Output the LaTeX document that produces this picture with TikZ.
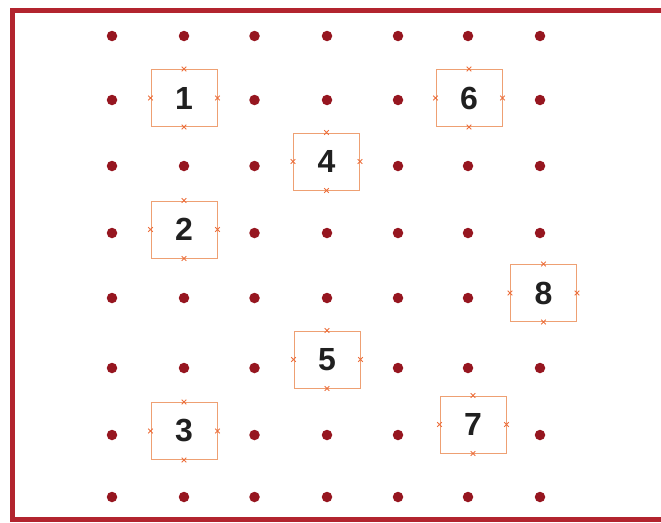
\documentclass[tikz,border=0pt]{standalone}
\usepackage{fontspec}
\setmainfont{Liberation Sans}
\usetikzlibrary{positioning}
\definecolor{framered}{RGB}{178,36,46}
\definecolor{dotred}{RGB}{150,22,32}
\definecolor{boxorange}{RGB}{238,160,115}
\definecolor{tickorange}{RGB}{236,112,62}
\definecolor{digitgray}{RGB}{32,32,32}
\tikzset{
  gridpt/.style={circle, fill=dotred, inner sep=0pt, minimum size=10.5pt},
  cellbox/.style={draw=boxorange, line width=1pt, minimum width=66pt, minimum height=57pt, inner sep=0pt, font=\fontsize{32}{32}\selectfont\bfseries, text=digitgray},
  edgetick/.style={draw=tickorange, line width=0.9pt}
}

\begin{document}
\begin{tikzpicture}[x=1pt, y=-1pt]
    \useasboundingbox (0,0) rectangle (661,522);
    \clip (0,0) rectangle (661,522);

    % Frame (runs off the right edge)
    \draw[framered, line width=5pt] (680,10.5) -- (12,10.5) -- (12,519.5) -- (680,519.5);

    % Grid points, left out where a numbered cell sits
    \foreach \c/\r in {2/2,6/2,4/3,2/4,7/5,4/6,2/7,6/7}
        {\expandafter\gdef\csname skip\c-\r\endcsname{}}
    \foreach \y [count=\r] in {36,100,166,233,298,368,435,497} {
        \foreach \x [count=\c] in {112,184,254.5,327,398,468,540} {
            \ifcsname skip\c-\r\endcsname\else
                \node[gridpt] (p\c-\r) at (\x,\y) {};
            \fi
        }
    }

    % Numbered cells
    \node[cellbox] (b1) at (184,98) {1};
    \node[cellbox] (b2) at (184,229.5) {2};
    \node[cellbox] (b3) at (184,431) {3};
    \node[cellbox] (b4) at (326.5,161.5) {4};
    \node[cellbox] (b5) at (327,359.5) {5};
    \node[cellbox] (b6) at (469,98) {6};
    \node[cellbox] (b7) at (473,424.5) {7};
    \node[cellbox] (b8) at (543.5,293) {8};

    % Small marks on the middle of each side
    \foreach \b in {1,...,8} {
        \foreach \a in {north,south,east,west}
            \draw[edgetick] (b\b.\a) +(-2.3,-2.3) -- +(2.3,2.3) +(-2.3,2.3) -- +(2.3,-2.3);
    }
\end{tikzpicture}
\end{document}
